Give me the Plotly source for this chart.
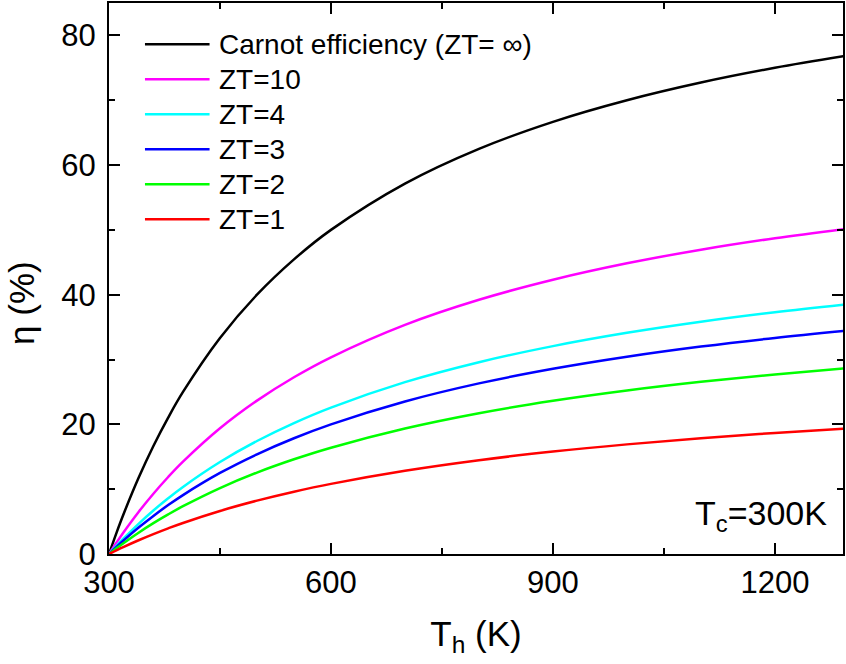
import plotly.graph_objects as go

# Hot-side temperature (K)
Th = [300, 310, 320, 340, 360, 380, 400, 450, 500, 550, 600, 700, 800, 900, 1000, 1100, 1200, 1300]

# Efficiency (%)
eta_carnot = [0, 3.23, 6.25, 11.76, 16.67, 21.05, 25.0, 33.33, 40.0, 45.45, 50.0, 57.14, 62.5, 66.67, 70.0, 72.73, 75.0, 76.92]
eta_zt10 = [0, 1.74, 3.40, 6.49, 9.30, 11.88, 14.24, 19.39, 23.66, 27.27, 30.35, 35.35, 39.22, 42.31, 44.84, 46.94, 48.71, 50.23]
eta_zt4 = [0, 1.25, 2.43, 4.66, 6.71, 8.60, 10.35, 14.19, 17.43, 20.20, 22.59, 26.51, 29.59, 32.07, 34.12, 35.83, 37.29, 38.55]
eta_zt3 = [0, 1.09, 2.13, 4.08, 5.88, 7.55, 9.09, 12.5, 15.38, 17.86, 20.0, 23.53, 26.32, 28.57, 30.43, 32.0, 33.33, 34.48]
eta_zt2 = [0, 0.88, 1.71, 3.29, 4.76, 6.11, 7.37, 10.17, 12.56, 14.61, 16.40, 19.36, 21.72, 23.63, 25.22, 26.56, 27.70, 28.69]
eta_zt1 = [0, 0.56, 1.10, 2.12, 3.07, 3.96, 4.79, 6.64, 8.23, 9.61, 10.82, 12.84, 14.47, 15.80, 16.91, 17.86, 18.67, 19.37]

series_names = ["Carnot efficiency (ZT= \u221e)", "ZT=10", "ZT=4", "ZT=3", "ZT=2", "ZT=1"]
series_values = [eta_carnot, eta_zt10, eta_zt4, eta_zt3, eta_zt2, eta_zt1]
series_colors = ["#000000", "#ff00ff", "#00ffff", "#0000ff", "#00ff00", "#ff0000"]

x_ticks = [300, 600, 900, 1200]
y_ticks = [0, 20, 40, 60, 80]

FONT = "Liberation Sans, Arial, sans-serif"

fig = go.Figure()
for name, vals, col in zip(series_names, series_values, series_colors):
    fig.add_trace(go.Scatter(x=Th, y=vals, name=name, mode="lines", showlegend=False,
                             line=dict(color=col, width=2.5, shape="spline")))

axis_common = dict(showline=True, linecolor="black", linewidth=2, mirror="allticks",
                   ticks="inside", ticklen=11, tickwidth=2, tickcolor="black",
                   showgrid=False, zeroline=False,
                   tickfont=dict(family=FONT, size=31, color="black"))

fig.update_xaxes(range=[300, 1292], tickvals=x_ticks,
                 minor=dict(ticks="inside", ticklen=6, tickwidth=2, dtick=150, tick0=300, tickcolor="black"),
                 title=dict(text="T<sub>h</sub> (K)", font=dict(family=FONT, size=35, color="black"), standoff=22),
                 **axis_common)
fig.update_yaxes(range=[0, 85], tickvals=y_ticks, ticklabelstandoff=5,
                 minor=dict(ticks="inside", ticklen=6, tickwidth=2, dtick=10, tick0=0, tickcolor="black"),
                 **axis_common)

# y-axis title (placed slightly below the axis centre, as in the reference)
fig.add_annotation(x=-0.119, y=0.455, xref="paper", yref="paper", xanchor="center", yanchor="middle",
                   text="\u03b7 (%)", textangle=-90, showarrow=False,
                   font=dict(family=FONT, size=35, color="black"))

# Legend drawn as line samples + labels (top-left inside the plot)
leg_x0, leg_x1, leg_tx = 0.049, 0.137, 0.147
leg_y0, leg_dy = 0.925, 0.0635
for i, (name, col) in enumerate(zip(series_names, series_colors)):
    yy = leg_y0 - i * leg_dy
    fig.add_shape(type="line", xref="paper", yref="paper", x0=leg_x0, x1=leg_x1, y0=yy, y1=yy,
                  line=dict(color=col, width=2.5))
    fig.add_annotation(x=leg_tx, y=yy, xref="paper", yref="paper", xanchor="left", yanchor="middle",
                       text=name, showarrow=False, font=dict(family=FONT, size=28, color="black"))

fig.add_annotation(x=0.981, y=0.028, xref="paper", yref="paper", xanchor="right", yanchor="bottom",
                   text="T<sub>c</sub>=300K", showarrow=False,
                   font=dict(family=FONT, size=34, color="black"))

fig.update_layout(width=846, height=664, margin=dict(l=109, r=1, t=3, b=110),
                  plot_bgcolor="white", paper_bgcolor="white", showlegend=False)

fig.write_html("out.html")
